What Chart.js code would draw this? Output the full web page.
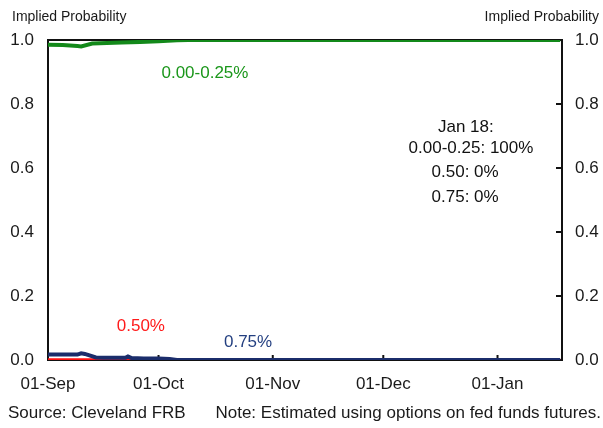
<!DOCTYPE html>
<html>
<head>
<meta charset="utf-8">
<script src="https://cdn.jsdelivr.net/npm/chart.js@4.4.0/dist/chart.umd.min.js"></script>
<style>
  html, body { margin: 0; padding: 0; background: #fff; }
  #wrap { width: 603px; height: 428px; }
</style>
</head>
<body>
<div id="wrap"><canvas id="probChart" width="603" height="428"></canvas></div>
<script>
// days counted from 01-Sep
const monthTicks = [0, 30, 61, 91, 122];
const monthLabels = ['01-Sep', '01-Oct', '01-Nov', '01-Dec', '01-Jan'];
const yTicks = [0, 0.2, 0.4, 0.6, 0.8, 1.0];

const lowDays = [0, 4, 8, 9, 12, 16, 20, 25, 30, 35, 38, 139];
const lowVals = [0.985, 0.984, 0.981, 0.980, 0.989, 0.991, 0.992, 0.994, 0.996, 0.999, 1.0, 1.0];

const midDays = [0, 34, 36, 139];
const midVals = [0.001, 0.001, 0, 0];

const highDays = [0, 8, 9, 10, 13, 15, 21, 21.7, 22.7, 26, 30, 33, 35, 139];
const highVals = [0.017, 0.017, 0.021, 0.019, 0.008, 0.007, 0.007, 0.011, 0.006, 0.005, 0.005, 0.003, 0, 0];

const toPoints = (xs, ys) => xs.map((d, i) => ({ x: d, y: ys[i] }));

// text labels placed in data coordinates
const notes = [
    { text: '0.00-0.25%', day: 42.6, val: 0.897, color: '#1a961a' },
    { text: '0.50%', day: 25.2, val: 0.106, color: '#ff1a1a' },
    { text: '0.75%', day: 54.3, val: 0.056, color: '#233f80' },
    { text: 'Jan 18:', day: 113.4, val: 0.728, color: '#111' },
    { text: '0.00-0.25: 100%', day: 114.8, val: 0.66, color: '#111' },
    { text: '0.50: 0%', day: 113.2, val: 0.588, color: '#111' },
    { text: '0.75: 0%', day: 113.2, val: 0.509, color: '#111' }
];

const decor = {
    id: 'decor',
    beforeDatasetsDraw(chart) {
        const { ctx, chartArea: a, scales } = chart;
        ctx.save();
        ctx.strokeStyle = '#111';
        ctx.lineWidth = 2;
        ctx.strokeRect(a.left, a.top, a.right - a.left, a.bottom - a.top);
        // inward ticks on the right axis
        yTicks.forEach(v => {
            const y = scales.y.getPixelForValue(v);
            ctx.beginPath();
            ctx.moveTo(a.right - 6, y);
            ctx.lineTo(a.right, y);
            ctx.stroke();
        });
        // month ticks on the bottom axis
        monthTicks.slice(1).forEach(d => {
            const x = scales.x.getPixelForValue(d);
            ctx.beginPath();
            ctx.moveTo(x, a.bottom - 5);
            ctx.lineTo(x, a.bottom);
            ctx.stroke();
        });
        ctx.restore();
    },
    afterDraw(chart) {
        const { ctx, scales } = chart;
        ctx.save();
        ctx.textBaseline = 'middle';
        ctx.font = '14px "Liberation Sans", Arial, sans-serif';
        ctx.fillStyle = '#1a1a1a';
        ctx.textAlign = 'left';
        ctx.fillText('Implied Probability', 12, 17);
        ctx.textAlign = 'right';
        ctx.fillText('Implied Probability', 599, 17);

        ctx.font = '17px "Liberation Sans", Arial, sans-serif';
        ctx.textAlign = 'left';
        ctx.fillText('Source: Cleveland FRB', 8, 413);
        ctx.textAlign = 'right';
        ctx.fillText('Note: Estimated using options on fed funds futures.', 601, 413);

        ctx.textAlign = 'center';
        notes.forEach(n => {
            ctx.fillStyle = n.color;
            ctx.fillText(n.text, scales.x.getPixelForValue(n.day), scales.y.getPixelForValue(n.val));
        });
        ctx.restore();
    }
};

const tickFont = { family: '"Liberation Sans", Arial, sans-serif', size: 17 };

new Chart(document.getElementById('probChart').getContext('2d'), {
    type: 'line',
    data: {
        datasets: [
            {
                label: '0.00-0.25%',
                data: toPoints(lowDays, lowVals),
                borderColor: '#13891a',
                borderWidth: 4,
                pointRadius: 0,
                tension: 0,
                order: 1
            },
            {
                label: '0.75%',
                data: toPoints(highDays, highVals),
                borderColor: '#1b2d6b',
                borderWidth: 4,
                pointRadius: 0,
                tension: 0,
                order: 2
            },
            {
                label: '0.50%',
                data: toPoints(midDays, midVals),
                borderColor: '#ff1010',
                borderWidth: 3,
                pointRadius: 0,
                tension: 0,
                order: 3
            }
        ]
    },
    options: {
        responsive: false,
        animation: false,
        layout: { padding: { top: 40, left: 0, right: 0, bottom: 0 } },
        plugins: {
            legend: { display: false },
            tooltip: { enabled: false }
        },
        scales: {
            x: {
                type: 'linear',
                min: 0,
                max: 139.5,
                grid: { display: false, drawTicks: false },
                border: { display: false },
                afterBuildTicks: scale => { scale.ticks = monthTicks.map(v => ({ value: v })); },
                afterFit: scale => { scale.height = 68; },
                ticks: {
                    font: tickFont,
                    color: '#1a1a1a',
                    padding: 14,
                    maxRotation: 0,
                    autoSkip: false,
                    callback: v => monthLabels[monthTicks.indexOf(v)]
                }
            },
            y: {
                position: 'left',
                min: 0,
                max: 1,
                grid: { display: false, drawTicks: false },
                border: { display: false },
                afterBuildTicks: scale => { scale.ticks = yTicks.map(v => ({ value: v })); },
                afterFit: scale => { scale.width = 48; },
                ticks: { font: tickFont, color: '#1a1a1a', padding: 14, callback: v => v.toFixed(1) }
            },
            y2: {
                position: 'right',
                min: 0,
                max: 1,
                grid: { display: false, drawTicks: false },
                border: { display: false },
                afterBuildTicks: scale => { scale.ticks = yTicks.map(v => ({ value: v })); },
                afterFit: scale => { scale.width = 41; },
                ticks: { font: tickFont, color: '#1a1a1a', padding: 13, callback: v => v.toFixed(1) }
            }
        }
    },
    plugins: [decor]
});
</script>
</body>
</html>
